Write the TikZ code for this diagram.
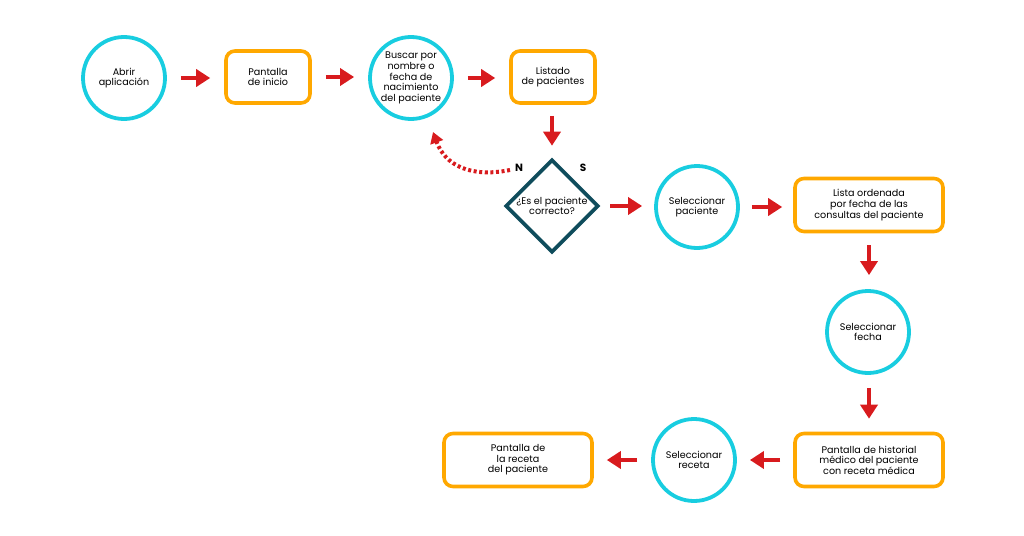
\documentclass[tikz,border=0pt]{standalone}
\usepackage{fontspec}
\setmainfont{Poppins}
\usetikzlibrary{arrows.meta,shapes.geometric}
\definecolor{cy}{HTML}{18CDE0}
\definecolor{orn}{HTML}{FFA800}
\definecolor{rd}{HTML}{D81B1E}
\definecolor{tl}{HTML}{0F4C5C}
\begin{document}
\begin{tikzpicture}[x=1pt,y=-1pt,
  txt/.style={font=\fontsize{9.6}{10.6}\selectfont},
  circ/.style={circle,draw=cy,line width=3.8pt,minimum size=82pt,inner sep=0pt,align=center,txt},
  rbox/.style={rectangle,rounded corners=9pt,draw=orn,line width=3.6pt,align=center,txt,inner sep=0pt},
  dia/.style={diamond,draw=tl,line width=3.6pt,minimum size=93pt,inner sep=0pt,align=center,txt},
  arr/.style={draw=rd,line width=4.5pt,-{Triangle[length=14pt,width=17pt]},shorten <=14pt,shorten >=14pt},
  dots/.style={draw=rd,line width=4pt,dash pattern=on 3pt off 2.6pt,-{Triangle[length=11pt,width=13pt]}},
  lab/.style={font=\fontsize{10.5}{11}\selectfont\bfseries}]
\useasboundingbox (0,0) rectangle (1024,535);
\node[circ] (abrir) at (124,78) {Abrir\\aplicación};
\node[rbox,minimum width=84pt,minimum height=52pt] (inicio) at (268,77) {Pantalla\\de inicio};
\node[circ] (buscar) at (411,78) {Buscar por\\nombre o\\fecha de\\nacimiento\\del paciente};
\node[rbox,minimum width=84pt,minimum height=52pt] (listado) at (553,77) {Listado\\de pacientes};
\node[dia] (dia) at (552,206) {¿Es el paciente\\correcto?};
\node[circ] (selpac) at (697,207) {Seleccionar\\paciente};
\node[rbox,minimum width=148pt,minimum height=53pt] (lista) at (869,205) {Lista ordenada\\por fecha de las\\consultas del paciente};
\node[circ] (selfecha) at (868,332) {Seleccionar\\fecha};
\node[rbox,minimum width=148pt,minimum height=53pt] (hist) at (869,460) {Pantalla de historial\\médico del paciente\\con receta médica};
\node[circ] (selrec) at (694,460) {Seleccionar\\receta};
\node[rbox,minimum width=148pt,minimum height=53pt] (receta) at (518,460) {Pantalla de\\la receta\\del paciente};
\node[lab] (n) at (519,168) {N};
\node[lab] (s) at (583,168) {S};
\draw[arr] (abrir.east) -- (abrir.east -| inicio.west);
\draw[arr] (inicio.east) -- (inicio.east -| buscar.west);
\draw[arr] (buscar.east) -- (buscar.east -| listado.west);
\draw[arr,shorten <=11pt,shorten >=12pt] (dia.north |- listado.south) -- (dia.north);
\draw[arr,shorten <=10pt,shorten >=12pt] (dia.east) -- (dia.east -| selpac.west);
\draw[arr,shorten <=12pt,shorten >=11pt] (selpac.east) -- (selpac.east -| lista.west);
\draw[arr,shorten <=12pt,shorten >=14pt] (lista.south) -- (lista.south |- selfecha.north);
\draw[arr,shorten <=13pt,shorten >=13pt] (hist.north |- selfecha.south) -- (hist.north);
\draw[arr,shorten <=13pt,shorten >=13pt] (hist.west) -- (hist.west -| selrec.east);
\draw[arr,shorten <=14pt,shorten >=13pt] (selrec.west) -- (selrec.west -| receta.east);
\coordinate (nstart) at (510,170);
\coordinate (nend) at (433,132);
\draw[dots] (nstart) .. controls (470,178) and (445,165) .. (nend);
\end{tikzpicture}
\end{document}
